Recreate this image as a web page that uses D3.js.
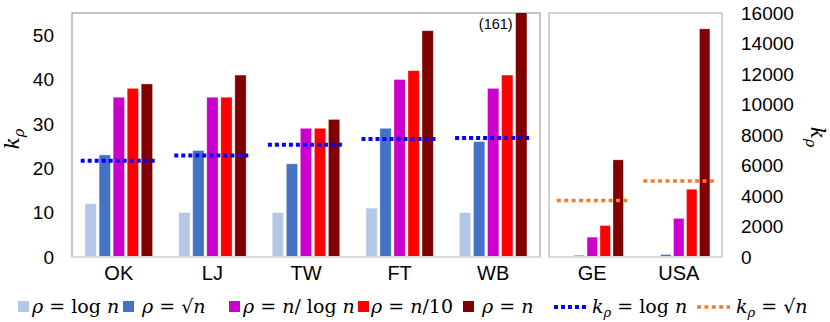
<!DOCTYPE html>
<html>
<head>
<meta charset="utf-8">
<script src="https://cdn.jsdelivr.net/npm/d3@7"></script>
<style>
  body { margin: 0; background: #fff; }
  svg { display: block; font-family: "Liberation Sans", Arial, sans-serif; }
  .math { font-family: "DejaVu Serif", "Liberation Serif", serif; }
</style>
</head>
<body>
<div id="chart"></div>
<script>
// data
var leftCats = ['OK', 'LJ', 'TW', 'FT', 'WB'];
var rightCats = ['GE', 'USA'];
var seriesKeys = ['logn', 'sqrtn', 'nlogn', 'n10', 'n'];
var seriesColors = ['#B4C7E7', '#4472C4', '#CC00CC', '#FF0000', '#800000'];

var logn = [12, 10, 10, 11, 10, 15, 18];
var sqrtn = [23, 24, 21, 29, 26, 110, 160];
var nlogn = [36, 36, 29, 40, 38, 1300, 2530];
var n10 = [38, 36, 29, 42, 41, 2060, 4440];
var nAll = [39, 41, 31, 51, 161, 6370, 14960];

var kLogn = [21.7, 22.9, 25.3, 26.6, 26.8];   // left panel, blue dotted
var kSqrtn = [3700, 4980];                     // right panel, orange dotted

var leftTicks = [0, 10, 20, 30, 40, 50];
var rightTicks = [0, 2000, 4000, 6000, 8000, 10000, 12000, 14000, 16000];

var allSeries = [logn, sqrtn, nlogn, n10, nAll];

var W = 830, H = 322;
var yTop = 13, base = 257;
var svg = d3.select('#chart').append('svg').attr('width', W).attr('height', H);

var yL = d3.scaleLinear().domain([0, 55]).range([base, yTop]);
var yR = d3.scaleLinear().domain([0, 16000]).range([base, yTop]);

var x0L = d3.scaleBand().domain(leftCats).range([72, 540]).paddingInner(0.25).paddingOuter(0.125);
var x0R = d3.scaleBand().domain(rightCats).range([549, 722]).paddingInner(0.25).paddingOuter(0.125);
var x1L = d3.scaleBand().domain(seriesKeys).range([0, x0L.bandwidth()]).paddingInner(0.2).paddingOuter(0.1);
var x1R = d3.scaleBand().domain(seriesKeys).range([0, x0R.bandwidth()]).paddingInner(0.2).paddingOuter(0.1);

svg.append('clipPath').attr('id', 'clipL').append('rect')
  .attr('x', 72).attr('y', yTop).attr('width', 468).attr('height', base - yTop);

function panel(cats, offset, x0, x1, y, clip) {
  var g = svg.append('g');
  if (clip) g.attr('clip-path', 'url(#clipL)');
  cats.forEach(function(c, ci) {
    seriesKeys.forEach(function(k, si) {
      var v = allSeries[si][ci + offset];
      g.append('rect')
        .attr('x', x0(c) + x1(k))
        .attr('y', y(v))
        .attr('width', x1.bandwidth())
        .attr('height', base - y(v))
        .attr('fill', seriesColors[si])
        .attr('stroke', 'rgba(255,255,255,0.35)')
        .attr('stroke-width', 0.8);
    });
  });
}

// frames
svg.append('rect').attr('x', 72).attr('y', yTop).attr('width', 468).attr('height', base - yTop)
  .attr('fill', 'none').attr('stroke', '#8c8c8c').attr('stroke-width', 1);
svg.append('rect').attr('x', 549).attr('y', yTop).attr('width', 173).attr('height', base - yTop)
  .attr('fill', 'none').attr('stroke', '#a6a6a6').attr('stroke-width', 1);

panel(leftCats, 0, x0L, x1L, yL, true);
panel(rightCats, 5, x0R, x1R, yR, false);

// baselines
svg.append('line').attr('x1', 72).attr('x2', 540).attr('y1', base).attr('y2', base)
  .attr('stroke', '#d9d9d9').attr('stroke-width', 2);
svg.append('line').attr('x1', 549).attr('x2', 722).attr('y1', base).attr('y2', base)
  .attr('stroke', '#d9d9d9').attr('stroke-width', 2);

// dotted reference lines
leftCats.forEach(function(c, i) {
  svg.append('line')
    .attr('x1', x0L(c) - 3).attr('x2', x0L(c) + x0L.bandwidth() + 1)
    .attr('y1', yL(kLogn[i])).attr('y2', yL(kLogn[i]))
    .attr('stroke', '#0000FF').attr('stroke-width', 4).attr('stroke-dasharray', '4,3');
});
rightCats.forEach(function(c, i) {
  svg.append('line')
    .attr('x1', x0R(c) - 3).attr('x2', x0R(c) + x0R.bandwidth() + 6)
    .attr('y1', yR(kSqrtn[i])).attr('y2', yR(kSqrtn[i]))
    .attr('stroke', '#ED7D31').attr('stroke-width', 3.5).attr('stroke-dasharray', '4,3.4');
});

// (161) note
svg.append('text').attr('x', x0L('WB') + x1L('n') - 3).attr('y', 29)
  .attr('text-anchor', 'end').attr('font-size', 14.5).attr('fill', '#000').text('(161)');

// axes
var axL = d3.axisLeft(yL).tickValues(leftTicks).tickSize(0).tickPadding(0);
svg.append('g').attr('transform', 'translate(54,0)').call(axL)
  .call(function(g) { g.select('.domain').remove(); })
  .selectAll('text').attr('font-size', 19).attr('font-family', '"Liberation Sans", Arial, sans-serif').attr('fill', '#000');

var axR = d3.axisRight(yR).tickValues(rightTicks).tickSize(0).tickPadding(0).tickFormat(d3.format('d'));
svg.append('g').attr('transform', 'translate(741,0)').call(axR)
  .call(function(g) { g.select('.domain').remove(); })
  .selectAll('text').attr('font-size', 19).attr('font-family', '"Liberation Sans", Arial, sans-serif').attr('fill', '#000');

var axBL = d3.axisBottom(x0L).tickSize(0).tickPadding(0);
svg.append('g').attr('transform', 'translate(0,266)').call(axBL)
  .call(function(g) { g.select('.domain').remove(); })
  .selectAll('text').attr('font-size', 20).attr('font-family', '"Liberation Sans", Arial, sans-serif').attr('fill', '#000');
var axBR = d3.axisBottom(x0R).tickSize(0).tickPadding(0);
svg.append('g').attr('transform', 'translate(0,266)').call(axBR)
  .call(function(g) { g.select('.domain').remove(); })
  .selectAll('text').attr('font-size', 20).attr('font-family', '"Liberation Sans", Arial, sans-serif').attr('fill', '#000');

// axis titles k_rho
function kRho(sel, size) {
  sel.append('tspan').attr('font-style', 'italic').attr('font-size', size).text('k');
  sel.append('tspan').attr('font-style', 'italic').attr('font-size', size * 0.72).attr('dy', size * 0.25).text('ρ');
}
var tl = svg.append('text').attr('class', 'math')
  .attr('transform', 'translate(19,139) rotate(-90)').attr('text-anchor', 'middle');
kRho(tl, 20);
var tr = svg.append('text').attr('class', 'math')
  .attr('transform', 'translate(811,137) rotate(90)').attr('text-anchor', 'middle');
kRho(tr, 20);

// legend
var ly = 313, fs = 19;
var lg = svg.append('g').attr('class', 'math').attr('font-size', fs);
function sq(x, color) {
  lg.append('rect').attr('x', x).attr('y', ly - 12).attr('width', 11).attr('height', 11).attr('fill', color);
}
function dl(x1, x2, color, w, dash) {
  lg.append('line').attr('x1', x1).attr('x2', x2).attr('y1', ly - 6).attr('y2', ly - 6)
    .attr('stroke', color).attr('stroke-width', w).attr('stroke-dasharray', dash);
}
function txt(x, parts) {
  var t = lg.append('text').attr('x', x).attr('y', ly);
  parts.forEach(function(p) {
    var s = t.append('tspan').text(p[0]);
    if (p[1]) s.attr('font-style', 'italic');
    if (p[2]) s.attr('font-size', p[2]);
    if (p[3]) s.attr('dy', p[3]);
  });
  return t;
}
sq(18, seriesColors[0]);
txt(32, [['ρ', 1], [' = log '], ['n', 1]]);
sq(123, seriesColors[1]);
txt(142, [['ρ', 1], [' = √'], ['n', 1]]);
sq(229, seriesColors[2]);
txt(243, [['ρ', 1], [' = '], ['n', 1], ['/ log '], ['n', 1]]);
sq(358, seriesColors[3]);
txt(371, [['ρ', 1], [' = '], ['n', 1], ['/10']]);
sq(463, seriesColors[4]);
txt(482, [['ρ', 1], [' = '], ['n', 1]]);
dl(554, 586, '#0000FF', 4, '4,3');
txt(592, [['k', 1], ['ρ', 1, 13, 4], [' = log ', 0, 0, -4], ['n', 1]]);
dl(697, 730, '#ED7D31', 3.5, '4,3.4');
txt(736, [['k', 1], ['ρ', 1, 13, 4], [' = √', 0, 0, -4], ['n', 1]]);
</script>
</body>
</html>
